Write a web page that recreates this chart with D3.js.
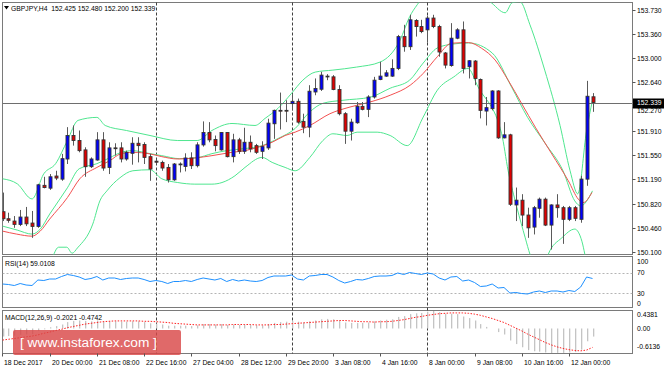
<!DOCTYPE html>
<html><head><meta charset="utf-8">
<script src="https://cdn.jsdelivr.net/npm/d3@7"></script>
<style>
body{margin:0;background:#fff}
svg{display:block}
text{font-family:"Liberation Sans",Arial,sans-serif;font-size:6.8px;fill:#000}
</style>
</head><body><svg id="c" width="664" height="369"></svg>
<script>
// ---------- DATA ----------
const symbol = "GBPJPY,H4";
const lastOHLC = [152.425, 152.480, 152.200, 152.339];
const opens = [150.707,150.602,150.567,150.517,150.627,150.537,150.487,151.101,151.059,151.240,
151.194,151.495,151.846,151.771,151.631,151.380,151.480,151.781,151.369,151.661,
151.661,151.495,151.580,151.730,151.711,151.530,151.462,151.444,151.369,151.184,
151.420,151.384,151.510,151.395,151.706,151.891,151.786,151.631,151.891,151.530,
151.781,151.610,151.745,151.695,151.610,151.661,152.022,152.222,152.222,152.323,
152.357,152.057,151.971,152.497,152.538,152.734,152.723,152.534,152.172,151.911,
152.037,152.282,152.237,152.422,152.684,152.734,152.734,152.849,153.325,153.174,
153.566,153.475,153.426,153.602,153.475,153.080,152.892,153.301,153.426,152.874,
152.959,152.684,152.212,152.248,152.512,151.811,151.856,150.808,150.879,150.657,
150.477,150.758,150.894,150.507,150.808,150.767,150.593,150.767,150.593,151.194,152.425];
const highs = [150.993,150.692,150.642,150.733,150.778,150.718,151.124,151.229,151.270,151.319,
151.571,151.971,151.996,151.921,151.670,151.519,151.896,151.896,151.745,151.730,
151.745,151.620,151.820,151.820,151.745,151.571,151.485,151.470,151.420,151.435,
151.444,151.580,151.595,151.745,152.057,152.046,151.846,151.896,151.896,151.872,
151.811,151.962,151.846,151.721,151.760,152.097,152.233,152.488,152.373,152.473,
152.398,152.172,152.598,152.699,152.798,152.764,152.749,152.598,152.196,152.097,
152.347,152.347,152.448,152.723,152.949,152.824,152.985,153.350,153.501,153.651,
153.587,153.576,153.636,153.651,153.501,153.095,153.526,153.451,153.551,152.974,
152.974,152.699,152.422,152.523,152.523,152.046,151.872,151.068,150.969,150.767,
150.793,150.918,150.918,150.818,150.969,150.793,150.793,150.793,151.244,152.663,152.480];
const lows = [150.567,150.542,150.466,150.492,150.492,150.316,150.466,151.056,151.033,151.179,
151.169,151.420,151.695,151.595,151.229,151.360,151.470,151.319,151.270,151.545,
151.444,151.470,151.410,151.444,151.420,151.169,151.425,151.319,151.143,151.169,
151.294,151.309,151.345,151.369,151.680,151.745,151.610,151.620,151.519,151.444,
151.571,151.571,151.595,151.571,151.495,151.631,151.796,151.936,152.046,152.222,
152.022,151.881,151.820,152.448,152.512,152.673,152.523,152.147,151.721,151.771,
152.022,152.222,152.121,152.398,152.673,152.723,152.723,152.824,153.099,153.125,
153.325,153.376,153.235,153.451,153.024,152.849,152.874,153.286,152.774,152.699,
152.598,152.102,151.996,152.222,151.796,151.804,150.793,150.567,150.492,150.316,
150.367,150.617,150.492,150.141,150.617,150.226,150.567,150.567,150.542,151.094,152.200];
const closes = [150.602,150.578,150.517,150.627,150.526,150.487,151.109,151.068,151.229,151.210,
151.500,151.846,151.771,151.620,151.380,151.495,151.781,151.360,151.661,151.653,
151.495,151.595,151.730,151.695,151.519,151.345,151.447,151.360,151.184,151.420,
151.413,151.510,151.395,151.706,151.891,151.781,151.695,151.891,151.530,151.781,
151.610,151.745,151.646,151.595,151.680,152.031,152.222,152.215,152.215,152.357,
152.046,151.971,152.508,152.549,152.749,152.729,152.534,152.172,151.911,152.046,
152.282,152.237,152.422,152.673,152.734,152.783,152.849,153.325,153.174,153.576,
153.475,153.400,153.602,153.475,153.095,152.899,153.301,153.426,152.849,152.964,
152.699,152.222,152.263,152.512,151.811,151.856,150.818,150.879,150.657,150.466,
150.767,150.894,150.507,150.808,150.767,150.593,150.767,150.608,151.194,152.433,152.339];

// Bollinger bands / MA at bar positions
const bbUpperAt = [0,2.5,5,7,9,11,12.8,16,17.4,21,25,29.7,33,35.5,38.9,42.8,44.5,46.7,49,50.9,53,56,60,64,67.4,69,70.3,72.5,76,79,82.6,85.2,86.4,87.7,89.4,91.9,94.5,96.2,97.5,99,100];
const bbUpper = [151.199,151.124,150.898,151.274,151.425,151.771,152.072,152.117,151.996,151.921,151.846,151.771,151.771,151.921,152.026,151.996,152.102,152.252,152.478,152.673,152.794,152.824,152.869,152.944,153.275,153.621,153.802,154.027,154.058,153.997,153.847,153.681,153.832,153.847,153.501,152.824,151.996,151.319,150.973,151.921,152.373];
const bbMiddleAt = [0,2.5,5,6.4,8,11,13,16,18.2,20,22,25,27,30,33,35.5,38,41,44,46.7,49.6,52,54.3,57.7,62.3,65.7,69,71.3,73.7,76.5,79,83,86.3,89,92,95,97,98,100];
const bbMiddle = [150.492,150.432,150.372,150.447,150.672,151.064,151.349,151.425,151.515,151.590,151.620,151.575,151.545,151.500,151.515,151.575,151.620,151.650,151.695,151.801,151.951,152.192,152.327,152.373,152.418,152.553,152.673,152.929,153.155,153.215,153.230,153.080,152.568,152.117,151.726,151.319,150.868,150.793,151.019];
const bbLowerAt = [0,5,8,9.5,10.9,11.8,12.7,15.3,16.5,17.7,19.9,22.1,25,27,29.7,32.6,35.5,37.2,39.4,41.1,44,45.7,47.9,49.6,52.1,54.3,56,58.4,60.1,63.5,65.7,68.6,71.3,73.7,76.5,78.9,80.6,84.6,85.7,87.2,88.6,89.4,90,92,92.5,94.8,97,98.2,98.7,99,100];
const bbLower = [149.890,149.740,149.935,150.176,150.176,150.086,150.165,150.522,150.868,151.019,151.214,151.319,151.334,151.199,151.143,151.119,151.119,151.143,151.244,151.369,151.519,151.444,151.369,151.319,151.519,151.771,151.872,151.846,151.896,151.896,151.846,151.695,152.121,152.523,152.723,152.849,152.573,151.872,151.319,150.767,150.316,150.071,149.935,149.890,150.071,150.316,150.447,150.266,150.071,149.935,149.740];
const maAt = [0,2.4,5,6.4,8,11,13.1,16,18.2,20,22.1,25,27,29.7,32.6,35.5,38.9,41.1,43.3,45.7,47.9,49.6,52.1,55.5,58.9,62.3,65.7,69.1,71.3,73.7,76.1,79,81.2,83.5,85.7,88,90.3,93.1,95.9,97.6,98.4,99.9];
const maValues = [150.417,150.372,150.341,150.417,150.597,150.918,151.199,151.369,151.470,151.571,151.595,151.571,151.530,151.495,151.510,151.545,151.595,151.620,151.670,151.745,151.846,151.896,151.996,152.172,152.272,152.347,152.448,152.598,152.774,153.024,153.226,153.235,153.150,152.974,152.673,152.323,151.971,151.571,151.169,150.894,150.842,150.993];

const rsiValues = [48,47,45,49,46,45,56,55,58,58,63,67,65,62,57,59,63,56,60,60,
57,59,60,60,57,53,55,53,49,53,53,55,53,57,60,58,56,59,53,57,
54,56,54,53,55,61,64,64,64,66,58,56,64,65,67,67,62,55,50,53,
57,56,59,63,64,64,65,70,67,71,69,67,70,68,60,56,62,63,54,56,
51,43,44,48,40,41,30,31,29,28,32,34,31,34,34,32,35,33,42,62,59.0108];
const macdMain = [-0.20,-0.19,-0.18,-0.16,-0.15,-0.14,-0.06,-0.02,0.03,0.06,
0.10,0.16,0.19,0.20,0.19,0.18,0.20,0.17,0.18,0.18,
0.17,0.17,0.18,0.18,0.16,0.13,0.12,0.10,0.07,0.07,
0.07,0.07,0.06,0.08,0.11,0.11,0.10,0.11,0.09,0.10,
0.09,0.10,0.09,0.08,0.08,0.11,0.14,0.16,0.17,0.19,
0.17,0.15,0.18,0.20,0.23,0.24,0.23,0.19,0.15,0.14,
0.14,0.14,0.15,0.18,0.20,0.22,0.23,0.29,0.31,0.36,
0.38,0.39,0.42,0.4381,0.41,0.37,0.37,0.36,0.30,0.26,
0.20,0.11,0.04,0.00,-0.09,-0.15,-0.30,-0.39,-0.47,-0.54,
-0.57,-0.58,-0.60,-0.6136,-0.61,-0.61,-0.60,-0.59,-0.53,-0.32,-0.2021];
const macdSignal = [-0.29,-0.27,-0.25,-0.23,-0.21,-0.19,-0.16,-0.12,-0.09,-0.05,
-0.02,0.02,0.05,0.08,0.11,0.13,0.15,0.17,0.18,0.19,
0.19,0.19,0.19,0.19,0.18,0.18,0.17,0.16,0.15,0.13,
0.12,0.11,0.10,0.09,0.09,0.09,0.09,0.09,0.09,0.10,
0.10,0.10,0.10,0.09,0.09,0.09,0.10,0.10,0.11,0.12,
0.13,0.14,0.15,0.16,0.17,0.18,0.19,0.20,0.20,0.19,
0.18,0.17,0.17,0.16,0.17,0.17,0.18,0.20,0.22,0.25,
0.28,0.30,0.33,0.35,0.37,0.38,0.39,0.39,0.39,0.38,
0.36,0.33,0.29,0.25,0.20,0.15,0.08,0.01,-0.06,-0.14,
-0.21,-0.28,-0.35,-0.41,-0.46,-0.50,-0.53,-0.55,-0.56,-0.54,-0.4742];

const priceTicks = [153.730,153.360,153.000,152.640,152.270,151.910,151.550,151.190,150.820,150.460,150.100];
const rsiTicks = [100,70,30,0];
const rsiLevels = [70,30];
const macdTicks = [0.4381,0,-0.6136];
const macdTickLabels = ["0.4381","0.00","-0.6136"];
const timeLabelAt = [0,8,16,24,32,40,48,56,64,72,80,88,96];
const timeLabels = ["18 Dec 2017","20 Dec 00:00","21 Dec 08:00","22 Dec 16:00","27 Dec 04:00","28 Dec 12:00","29 Dec 20:00","3 Jan 08:00","4 Jan 16:00","8 Jan 00:00","9 Jan 08:00","10 Jan 16:00","12 Jan 00:00"];
const weekSeparatorsAt = [26,49,72];

// ---------- LAYOUT ----------
const svg = d3.select("#c");
const L = 2.5, R = 632.5;
const mainP = {top:2.5, bottom:254.5};
const rsiP = {top:256.5, bottom:307.5};
const macdP = {top:310.5, bottom:353.5};

const x = d3.scaleLinear().domain([0,100]).range([2.5,592.5]);
const y = d3.scaleLinear().domain([150.100,153.730]).range([252.3,9.5]);
const yr = d3.scaleLinear().domain([0,100]).range([308,258]);
const ym = d3.scaleLinear().domain([-0.6136,0.4381]).range([353,311]);
const px = i => Math.round(x(i));

const defs = svg.append("defs");
[["cm",mainP],["cr",rsiP],["cmd",macdP]].forEach(([id,p])=>{
  defs.append("clipPath").attr("id",id).append("rect")
    .attr("x",L).attr("y",p.top).attr("width",R-L).attr("height",p.bottom-p.top);
});

// panel borders
[mainP,rsiP,macdP].forEach(p=>{
  svg.append("rect").attr("x",L).attr("y",p.top).attr("width",R-L).attr("height",p.bottom-p.top)
    .attr("fill","none").attr("stroke","#7a7a7a").attr("stroke-width",1);
});

// week separators
weekSeparatorsAt.forEach(i=>{
  svg.append("line").attr("x1",px(i)+0.5).attr("x2",px(i)+0.5)
    .attr("y1",mainP.top).attr("y2",macdP.bottom)
    .attr("stroke","#404040").attr("stroke-dasharray","3,2").attr("stroke-width",1);
});

// ---------- MAIN ----------
const gm = svg.append("g").attr("clip-path","url(#cm)");
const green = "#4fe68f";
const lineGen = (at, vals, ys) => d3.line().x((d,k)=>x(at[k])).y(d=>ys(d)).curve(d3.curveMonotoneX)(vals);
gm.append("path").attr("d",lineGen(bbUpperAt,bbUpper,y)).attr("fill","none").attr("stroke",green).attr("stroke-width",1);
gm.append("path").attr("d",lineGen(bbLowerAt,bbLower,y)).attr("fill","none").attr("stroke",green).attr("stroke-width",1);
gm.append("path").attr("d",lineGen(bbMiddleAt,bbMiddle,y)).attr("fill","none").attr("stroke",green).attr("stroke-width",1);
gm.append("path").attr("d",lineGen(maAt,maValues,y)).attr("fill","none").attr("stroke","#f25050").attr("stroke-width",1);

// current price line
const lastClose = lastOHLC[3];
gm.append("line").attr("x1",L).attr("x2",R).attr("y1",Math.round(y(lastClose))+0.5).attr("y2",Math.round(y(lastClose))+0.5)
  .attr("stroke","#6e6e6e").attr("stroke-width",1);

// candles
const candles = d3.range(opens.length).map(i=>({i,o:opens[i],h:highs[i],l:lows[i],c:closes[i]}));
const cg = gm.append("g");
cg.selectAll("line.w").data(candles).join("line").attr("class","w")
  .attr("x1",d=>px(d.i)+0.5).attr("x2",d=>px(d.i)+0.5)
  .attr("y1",d=>y(d.h)).attr("y2",d=>y(d.l))
  .attr("stroke","#5a5a5a").attr("stroke-width",1);
cg.selectAll("rect.b").data(candles).join("rect").attr("class","b")
  .attr("x",d=>px(d.i)-1)
  .attr("y",d=>Math.min(y(d.o),y(d.c)))
  .attr("width",3)
  .attr("height",d=>Math.max(0.8,Math.abs(y(d.o)-y(d.c))))
  .attr("fill",d=>d.c>=d.o?"#0000ff":"#e00000")
  .attr("stroke","#333").attr("stroke-width",0.9);

// right price axis
const ax = svg.append("g");
const lastClose2 = lastOHLC[3];
const ly = Math.round(y(lastClose2))+0.5;
priceTicks.forEach(v=>{
  const yy = Math.round(y(v))+0.5;
  ax.append("line").attr("x1",R).attr("x2",R+3).attr("y1",yy).attr("y2",yy).attr("stroke","#555");
  // the label next to the current-price box is nudged below it
  const ty = Math.abs(yy-ly) < 8 ? ly + 9.2 : yy + 2.4;
  ax.append("text").attr("x",R+4.5).attr("y",ty).text(v.toFixed(3));
});
ax.append("rect").attr("x",R+0.5).attr("y",ly-5).attr("width",664-R).attr("height",10).attr("fill","#000");
ax.append("text").attr("x",R+4.5).attr("y",ly+1.6).style("fill","#fff").text(lastClose2.toFixed(3));

// title
svg.append("path").attr("d","M4,6 L9,6 L6.5,9.5 Z").attr("fill","#000");
svg.append("text").attr("x",11).attr("y",11).attr("xml:space","preserve")
  .text(symbol+"  "+lastOHLC.map(v=>v.toFixed(3)).join(" "));

// ---------- RSI ----------
const gr = svg.append("g").attr("clip-path","url(#cr)");
rsiLevels.forEach(v=>{
  gr.append("line").attr("x1",L).attr("x2",R).attr("y1",Math.round(yr(v))+0.5).attr("y2",Math.round(yr(v))+0.5)
    .attr("stroke","#b4b4b4").attr("stroke-dasharray","2,2");
});
gr.append("path").attr("d",d3.line().x((d,i)=>x(i)).y(d=>yr(d))(rsiValues))
  .attr("fill","none").attr("stroke","#1e90ff").attr("stroke-width",1);
svg.append("text").attr("x",5).attr("y",265.5).text("RSI(14) "+rsiValues[rsiValues.length-1].toFixed(4));
const rsiLabelY = {100:262, 70:273, 30:293.5, 0:304};
rsiTicks.forEach(v=>{
  svg.append("text").attr("x",R+4.5).attr("y",rsiLabelY[v]+2.4).text(String(v));
});

// ---------- MACD ----------
const gd = svg.append("g").attr("clip-path","url(#cmd)");
gd.selectAll("rect.h").data(macdMain).join("rect").attr("class","h")
  .attr("x",(d,i)=>px(i))
  .attr("y",d=>Math.min(ym(0),ym(d)))
  .attr("width",1.3)
  .attr("height",d=>Math.abs(ym(d)-ym(0)))
  .attr("fill","#c4c4c4");
gd.append("path").attr("d",d3.line().x((d,i)=>x(i)).y(d=>ym(d))(macdSignal))
  .attr("fill","none").attr("stroke","#ff2020").attr("stroke-width",1).attr("stroke-dasharray","1.5,1.5");
svg.append("text").attr("x",5).attr("y",319.5)
  .text("MACD(12,26,9) "+macdMain[macdMain.length-1].toFixed(4)+" "+macdSignal[macdSignal.length-1].toFixed(4));
const macdLabelY = [315,328.5,347];
macdTicks.forEach((v,k)=>{
  svg.append("text").attr("x",R+4.5).attr("y",macdLabelY[k]+2.4).text(macdTickLabels[k]);
});

// watermark
svg.append("rect").attr("x",13).attr("y",330).attr("width",168).attr("height",25).attr("rx",2)
  .attr("fill","#d94848").attr("opacity",0.82);
svg.append("text").attr("x",20).attr("y",347).style("font-size","13.7px").style("fill","#fff")
  .attr("xml:space","preserve").text("[ www.instaforex.com ]");

// ---------- TIME AXIS ----------
timeLabelAt.forEach((i,k)=>{
  const xx = k===0 ? 2.5 : px(i)+0.5;
  svg.append("line").attr("x1",xx).attr("x2",xx).attr("y1",macdP.bottom).attr("y2",macdP.bottom+3).attr("stroke","#555");
  svg.append("text").attr("x",xx+1.5).attr("y",364.5).text(timeLabels[k]);
});
</script>
</body></html>
